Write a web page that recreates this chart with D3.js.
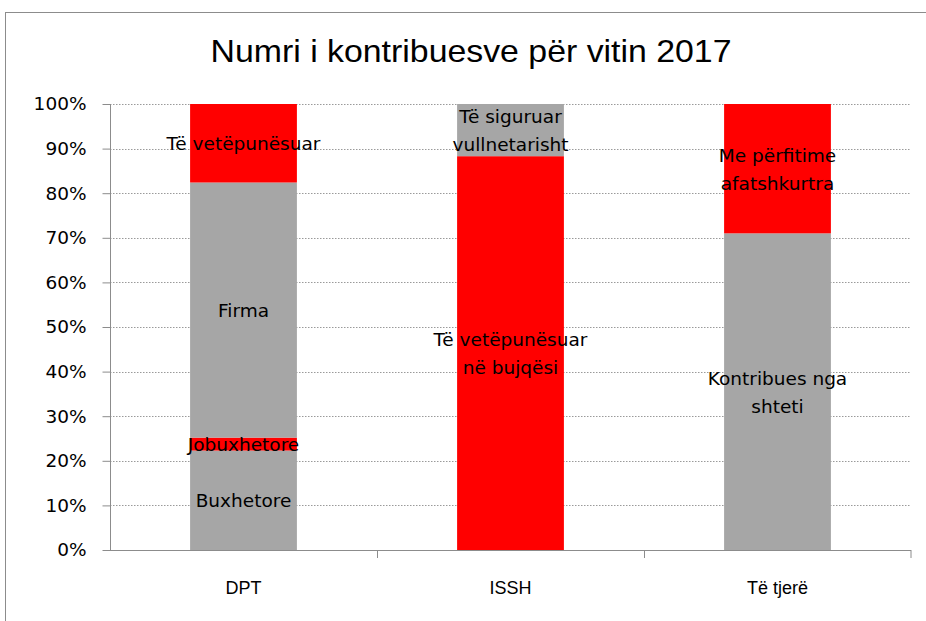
<!DOCTYPE html>
<html>
<head>
<meta charset="utf-8">
<script src="https://cdn.jsdelivr.net/npm/d3@7"></script>
<style>
  body { margin: 0; background: #fff; }
</style>
</head>
<body>
<svg></svg>
<script>
// data (percent of each bar)
var categories = ["DPT", "ISSH", "Të tjerë"];
var segNames = [
  ["Buxhetore", "Jobuxhetore", "Firma", "Të vetëpunësuar"],
  ["Të vetëpunësuar\nnë bujqësi", "Të siguruar\nvullnetarisht"],
  ["Kontribues nga\nshteti", "Me përfitime\nafatshkurtra"]
];
var segValues = [
  [22.3, 2.9, 57.2, 17.6],
  [88.3, 11.7],
  [71.0, 29.0]
];
var segColors = [
  ["#a6a6a6", "#ff0000", "#a6a6a6", "#ff0000"],
  ["#ff0000", "#a6a6a6"],
  ["#a6a6a6", "#ff0000"]
];
var yTicks = [0, 10, 20, 30, 40, 50, 60, 70, 80, 90, 100];

var svgWidth = 926, svgHeight = 621;
var plotLeft = 110, plotRight = 911, plotTop = 104, plotBottom = 550;

var svg = d3.select("svg")
    .attr("width", svgWidth)
    .attr("height", svgHeight)
    .style("font-family", "'DejaVu Sans', Verdana, sans-serif");

// chart border
svg.append("rect")
    .attr("x", 5.5).attr("y", 12.5)
    .attr("width", 940).attr("height", 640)
    .attr("fill", "none")
    .attr("stroke", "#8c8c8c");

var x = d3.scaleBand().domain(categories).range([plotLeft, plotRight]).paddingInner(0.6).paddingOuter(0.3);
var band = d3.scaleBand().domain(categories).range([plotLeft, plotRight]);
var y = d3.scaleLinear().domain([0, 100]).range([plotBottom, plotTop]);

// gridlines
svg.append("g").selectAll("line")
    .data(yTicks.filter(function(d) { return d > 0; }))
    .enter().append("line")
    .attr("x1", plotLeft).attr("x2", plotRight)
    .attr("y1", function(d) { return Math.round(y(d)) + 0.5; })
    .attr("y2", function(d) { return Math.round(y(d)) + 0.5; })
    .attr("stroke", "#9a9a9a")
    .attr("stroke-dasharray", "1.5,1.5");

// stacked bars
var rows = [];
categories.forEach(function(c, i) {
  var acc = 0;
  segValues[i].forEach(function(v, j) {
    rows.push({cat: c, y0: acc, y1: acc + v, name: segNames[i][j], color: segColors[i][j]});
    acc += v;
  });
});

svg.append("g").selectAll("rect")
    .data(rows)
    .enter().append("rect")
    .attr("x", function(d) { return x(d.cat); })
    .attr("width", x.bandwidth())
    .attr("y", function(d) { return y(d.y1); })
    .attr("height", function(d) { return y(d.y0) - y(d.y1); })
    .attr("fill", function(d) { return d.color; });

// segment labels
var lbl = svg.append("g").selectAll("text")
    .data(rows)
    .enter().append("text")
    .attr("text-anchor", "middle")
    .attr("font-size", 18.5)
    .attr("fill", "#000")
    .attr("x", function(d) { return x(d.cat) + x.bandwidth() / 2; })
    .attr("y", function(d) {
      var n = d.name.split("\n").length;
      return y((d.y0 + d.y1) / 2) + 7 - (n - 1) * 14;
    });
lbl.each(function(d) {
  var t = d3.select(this);
  d.name.split("\n").forEach(function(s, k) {
    t.append("tspan")
      .attr("x", x(d.cat) + x.bandwidth() / 2)
      .attr("dy", k == 0 ? 0 : 28)
      .text(s);
  });
});

// y axis
var yAxis = d3.axisLeft(y)
    .tickValues(yTicks)
    .tickSize(8)
    .tickPadding(16)
    .tickFormat(function(d) { return d + "%"; });
var gy = svg.append("g").attr("transform", "translate(" + (plotLeft + 0.5) + ",0)").call(yAxis);
gy.select(".domain").attr("stroke", "#8c8c8c").attr("d", "M0," + plotTop + "V" + plotBottom);
gy.selectAll(".tick line").attr("stroke", "#8c8c8c");
gy.selectAll(".tick text").attr("font-size", 18.5).attr("fill", "#000")
    .attr("font-family", "'DejaVu Sans', Verdana, sans-serif");

// x axis: ticks at band boundaries
svg.append("line")
    .attr("x1", plotLeft).attr("x2", plotRight)
    .attr("y1", plotBottom + 0.5).attr("y2", plotBottom + 0.5)
    .attr("stroke", "#8c8c8c");
svg.append("g").selectAll("line")
    .data(categories.slice(1).concat(["end"]))
    .enter().append("line")
    .attr("x1", function(d) { return d == "end" ? plotRight : Math.round(band(d)) + 0.5; })
    .attr("x2", function(d) { return d == "end" ? plotRight : Math.round(band(d)) + 0.5; })
    .attr("y1", plotBottom).attr("y2", plotBottom + 8)
    .attr("stroke", "#8c8c8c");

svg.append("g").selectAll("text")
    .data(categories)
    .enter().append("text")
    .attr("x", function(d) { return band(d) + band.bandwidth() / 2; })
    .attr("y", 594)
    .attr("text-anchor", "middle")
    .attr("font-family", "'Liberation Sans', sans-serif")
    .attr("font-size", 18)
    .text(function(d) { return d; });

// title
svg.append("text")
    .attr("x", 471).attr("y", 62)
    .attr("text-anchor", "middle")
    .attr("font-family", "'Liberation Sans', sans-serif")
    .attr("font-size", 32)
    .attr("textLength", 521)
    .attr("lengthAdjust", "spacingAndGlyphs")
    .text("Numri i kontribuesve për vitin 2017");
</script>
</body>
</html>
